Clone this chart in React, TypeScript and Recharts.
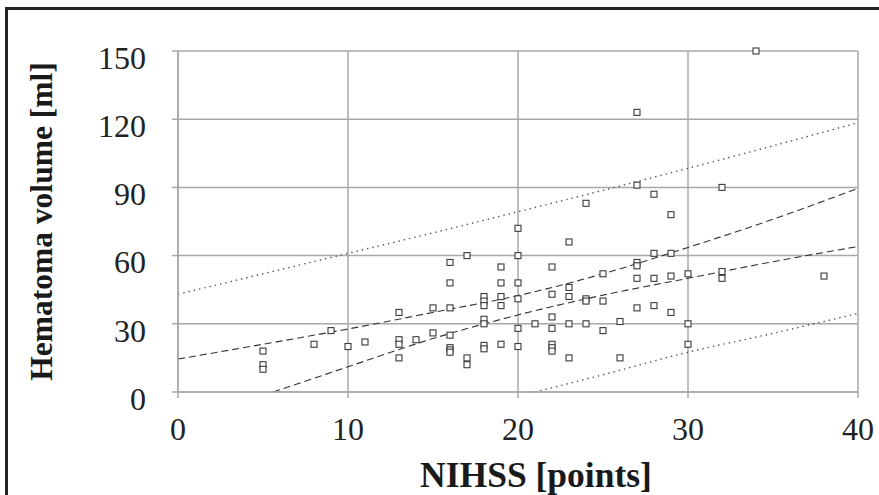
import React from "react";
import { ComposedChart, XAxis, YAxis, CartesianGrid, Line, Scatter } from "recharts";

// observed cases (NIHSS score, hematoma volume)
const nihss = [
  5, 5, 5, 8, 9, 10, 11,
  13, 13, 13, 13, 14, 15, 15,
  16, 16, 16, 16, 16, 16, 16,
  17, 17, 17,
  18, 18, 18, 18, 18, 18, 18,
  19, 19, 19, 19, 19,
  20, 20, 20, 20, 20, 20,
  21,
  22, 22, 22, 22, 22, 22, 22,
  23, 23, 23, 23, 23,
  24, 24, 24, 24,
  25, 25, 25,
  26, 26,
  27, 27, 27, 27, 27, 27,
  28, 28, 28, 28,
  29, 29, 29, 29,
  30, 30, 30,
  32, 32, 32,
  34, 38,
];
const volume = [
  18, 12, 10, 21, 27, 20, 22,
  35, 23, 21, 15, 23, 37, 26,
  57, 48, 37, 25, 19.5, 18.5, 17.5,
  60, 15, 12,
  42, 40, 38, 32, 30, 20.5, 19,
  55, 48, 42, 38, 21,
  72, 60, 48, 41, 28, 20,
  30,
  55, 43, 33, 28, 21, 19.5, 18,
  66, 46, 42, 30, 15,
  83, 41, 40, 30,
  52, 40, 27,
  31, 15,
  123, 91, 57, 55.5, 50, 37,
  87, 61, 50, 38,
  78, 61, 51, 35,
  52, 30, 21,
  90, 53, 50,
  150, 51,
];

// confidence band (dashed)
const ciUpperX = [0, 5, 10, 15, 20, 25, 30, 35, 40];
const ciUpperY = [14.5, 21, 27.7, 35, 42.4, 52, 63.6, 76, 89.6];
const ciLowerX = [5.6, 10, 15, 20, 25, 30, 35, 40];
const ciLowerY = [0, 11.1, 23.5, 33.9, 42.6, 50, 57.3, 64];

// prediction band (dotted)
const piUpperX = [0, 5, 10, 15, 20, 25, 30, 35, 40];
const piUpperY = [43, 52, 61, 70, 79.3, 88.7, 98.4, 108.3, 118.5];
const piLowerX = [21, 25, 30, 35, 40];
const piLowerY = [0, 7.6, 17.5, 25.8, 34.6];

const xTicks = [0, 10, 20, 30, 40];
const yTicks = [0, 30, 60, 90, 120, 150];

const toPoints = (xs: number[], ys: number[]) => xs.map((x, i) => ({ x, y: ys[i] }));

const cases = toPoints(nihss, volume);
const ciUpper = toPoints(ciUpperX, ciUpperY);
const ciLower = toPoints(ciLowerX, ciLowerY);
const piUpper = toPoints(piUpperX, piUpperY);
const piLower = toPoints(piLowerX, piLowerY);

const serif = '"Liberation Serif", "Times New Roman", serif';
const gridColor = "#a8a8a8";

const SquareDot = (props: any) => {
  const { cx, cy } = props;
  if (cx == null || cy == null) return null;
  return <rect x={cx - 3} y={cy - 3} width={6} height={6} fill="#fff" stroke="#3a3a3a" strokeWidth={1.1} />;
};

const YTick = (props: any) => {
  const { x, y, payload } = props;
  return (
    <text x={x} y={y + 6.5} dy="0.355em" textAnchor="end" fontFamily={serif} fontSize={32} fill="#222">
      {payload.value}
    </text>
  );
};

const XTick = (props: any) => {
  const { x, y, payload } = props;
  return (
    <text x={x} y={y} dy="0.71em" textAnchor="middle" fontFamily={serif} fontSize={32} fill="#222">
      {payload.value}
    </text>
  );
};

const YTitle = (props: any) => {
  const vb = props.viewBox;
  const cx = vb.x + 41;
  const cy = vb.y + vb.height / 2;
  return (
    <text
      x={cx}
      y={cy}
      dy="0.355em"
      textAnchor="middle"
      transform={`rotate(-90, ${cx}, ${cy})`}
      fontFamily={serif}
      fontWeight="bold"
      fontSize={31.5}
      fill="#1a1a1a"
    >
      Hematoma volume [ml]
    </text>
  );
};

const XTitle = (props: any) => {
  const vb = props.viewBox;
  return (
    <text
      x={vb.x + vb.width / 2 + 18}
      y={vb.y + vb.height - 8}
      textAnchor="middle"
      fontFamily={serif}
      fontWeight="bold"
      fontSize={35.5}
      fill="#1a1a1a"
    >
      NIHSS [points]
    </text>
  );
};

export default function App() {
  return (
    <div style={{ position: "absolute", left: 0, top: 0, width: 879, height: 495, background: "#fff", overflow: "hidden" }}>
      <div
        style={{
          position: "absolute",
          left: 5,
          top: 7,
          width: 900,
          height: 520,
          borderLeft: "3px solid #222",
          borderTop: "3px solid #222",
        }}
      />
      <div style={{ position: "absolute", left: 0, top: 0 }}>
        <ComposedChart width={879} height={495} margin={{ top: 51, right: 21, bottom: 0, left: 0 }}>
          <CartesianGrid stroke={gridColor} strokeWidth={1.5} />
          <XAxis
            type="number"
            dataKey="x"
            domain={[0, 40]}
            ticks={xTicks}
            height={103}
            tickSize={6}
            tickMargin={19}
            tickLine={{ stroke: gridColor, strokeWidth: 1.5 }}
            axisLine={{ stroke: gridColor, strokeWidth: 1.5 }}
            tick={<XTick />}
            label={<XTitle />}
          />
          <YAxis
            type="number"
            dataKey="y"
            domain={[0, 150]}
            ticks={yTicks}
            width={178}
            tickSize={6}
            tickMargin={26}
            tickLine={{ stroke: gridColor, strokeWidth: 1.5 }}
            axisLine={{ stroke: gridColor, strokeWidth: 1.5 }}
            tick={<YTick />}
            label={<YTitle />}
          />
          <Line data={piUpper} dataKey="y" type="monotone" stroke="#555" strokeWidth={1.4} strokeDasharray="1.4 4" dot={false} activeDot={false} isAnimationActive={false} />
          <Line data={piLower} dataKey="y" type="monotone" stroke="#555" strokeWidth={1.4} strokeDasharray="1.4 4" dot={false} activeDot={false} isAnimationActive={false} />
          <Line data={ciUpper} dataKey="y" type="monotone" stroke="#333" strokeWidth={1.1} strokeDasharray="7 4" dot={false} activeDot={false} isAnimationActive={false} />
          <Line data={ciLower} dataKey="y" type="monotone" stroke="#333" strokeWidth={1.1} strokeDasharray="7 4" dot={false} activeDot={false} isAnimationActive={false} />
          <Scatter data={cases} dataKey="y" shape={<SquareDot />} isAnimationActive={false} />
        </ComposedChart>
      </div>
    </div>
  );
}
